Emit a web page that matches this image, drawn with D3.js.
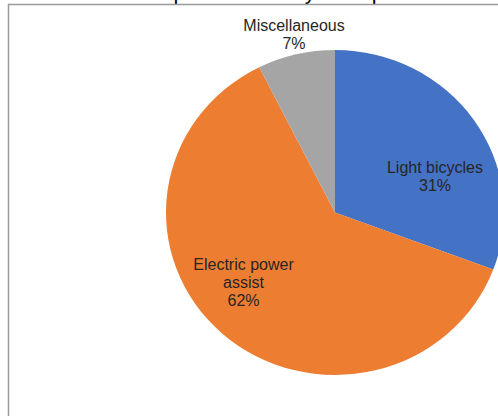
<!DOCTYPE html>
<html>
    <head>
        <meta charset="utf-8">
        <title>Composition of bicycle imports</title>
        <style>
        body{
            margin:0;
            background:#ffffff;
        }
        svg{
            display:block;
            font-family: Arial, "Liberation Sans", sans-serif;
        }
        </style>
    </head>
    <script src="https://cdn.jsdelivr.net/npm/d3@7/dist/d3.min.js"></script>
    <body>
        <script>
            // data (share of total, %)
            var categories = ["Light bicycles", "Electric power assist", "Miscellaneous"];
            var shares = [30.7, 61.9, 7.4];
            var shareLabels = ["31%", "62%", "7%"];
            // label lines as they wrap in the chart
            var labelLines = [["Light bicycles"], ["Electric power", "assist"], ["Miscellaneous"]];
            var colors = ["#4472c4", "#ed7d31", "#a5a5a5"];

            var width = 498, height = 416;

            var svg = d3.select('body').append('svg')
                .attr('width', width)
                .attr('height', height);

            // title sits above the visible area, only descenders peek through
            svg.append('text')
                .attr('x', 128)
                .attr('y', -1.5)
                .attr('font-size', '21.5px')
                .attr('fill', '#000')
                .text('Composition of bicycle imports');

            // chart frame
            svg.append('rect')
                .attr('x', 8.5)
                .attr('y', 4.5)
                .attr('width', 700)
                .attr('height', 600)
                .attr('fill', 'none')
                .attr('stroke', '#9a9a9a')
                .attr('stroke-width', 1.5);

            var cx = 335, cy = 212.5, radius = 162.5;

            var pie = d3.pie().sort(null).value(function(d){ return d; });
            var arc = d3.arc().innerRadius(0).outerRadius(radius);
            var arcs = pie(shares);

            // screenshot is a little wider than tall, so stretch the pie a bit
            var g = svg.append('g')
                .attr('transform', 'translate(' + cx + ',' + cy + ') scale(1.04,1)');

            g.selectAll('path')
                .data(arcs)
                .enter()
                .append('path')
                .attr('d', arc)
                .attr('fill', function(d, i){ return colors[i]; });

            // label anchor points (centre x, first baseline y)
            var labelPos = [[435, 173], [243.5, 270], [294, 31]];

            var labels = svg.selectAll('.lbl')
                .data(categories)
                .enter()
                .append('text')
                .attr('class', 'lbl')
                .attr('text-anchor', 'middle')
                .attr('font-size', '16px')
                .attr('fill', '#262626');

            labels.each(function(d, i){
                var t = d3.select(this);
                var lines = labelLines[i].concat([shareLabels[i]]);
                lines.forEach(function(line, j){
                    t.append('tspan')
                        .attr('x', labelPos[i][0])
                        .attr('y', labelPos[i][1] + j * 18)
                        .text(line);
                });
            });
        </script>
    </body>
</html>
